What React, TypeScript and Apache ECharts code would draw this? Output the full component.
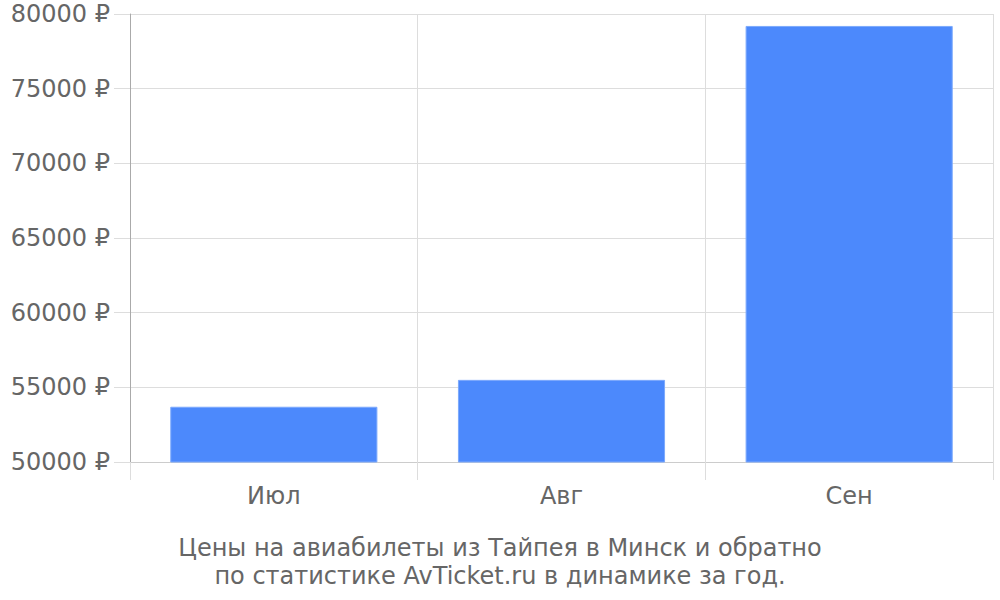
import React, { useEffect, useRef } from 'react';
import * as echarts from 'echarts';

const months = ['Июл', 'Авг', 'Сен'];
const prices = [53700, 55500, 79200];
const titleLines = [
    'Цены на авиабилеты из Тайпея в Минск и обратно',
    'по статистике AvTicket.ru в динамике за год.',
];

const App = () => {
    const chartRef = useRef<HTMLDivElement>(null);

    useEffect(() => {
        if (!chartRef.current) return;
        const chart = echarts.init(chartRef.current, null, { renderer: 'svg' });

        const option = {
            animation: false,
            textStyle: { fontFamily: 'DejaVu Sans' },
            title: {
                text: titleLines.join('\n'),
                left: 'center',
                top: 529,
                textStyle: {
                    color: '#666666',
                    fontSize: 24,
                    fontWeight: 'normal',
                    lineHeight: 28,
                    fontFamily: 'DejaVu Sans',
                    align: 'center',
                },
            },
            grid: { left: 130, right: 7, top: 14, bottom: 138, containLabel: false },
            xAxis: {
                type: 'category',
                data: months,
                axisLine: { show: true, lineStyle: { color: '#cccccc', width: 1 } },
                axisTick: { show: true, length: 18, lineStyle: { color: '#dddddd' } },
                splitLine: { show: true, lineStyle: { color: '#dddddd', width: 1 } },
                axisLabel: { color: '#666666', fontSize: 24, margin: 22, fontFamily: 'DejaVu Sans' },
            },
            yAxis: {
                type: 'value',
                min: 50000,
                max: 80000,
                interval: 5000,
                axisLine: { show: true, lineStyle: { color: '#aaaaaa', width: 1 } },
                axisTick: { show: true, length: 16, lineStyle: { color: '#dddddd' } },
                splitLine: { show: true, lineStyle: { color: '#dddddd', width: 1 } },
                axisLabel: {
                    color: '#666666',
                    fontSize: 24,
                    margin: 20,
                    fontFamily: 'DejaVu Sans',
                    formatter: (v: number) => v + ' ₽',
                },
            },
            series: [
                {
                    type: 'bar',
                    data: prices,
                    barCategoryGap: '28%',
                    itemStyle: { color: '#4c89fc', borderColor: '#7ca9fc', borderWidth: 1 },
                },
            ],
        };

        chart.setOption(option);
        return () => {
            chart.dispose();
        };
    }, []);

    return (
        <div
            ref={chartRef}
            style={{ position: 'absolute', left: 0, top: 0, width: 1000, height: 600 }}
        ></div>
    );
};

export default App;
